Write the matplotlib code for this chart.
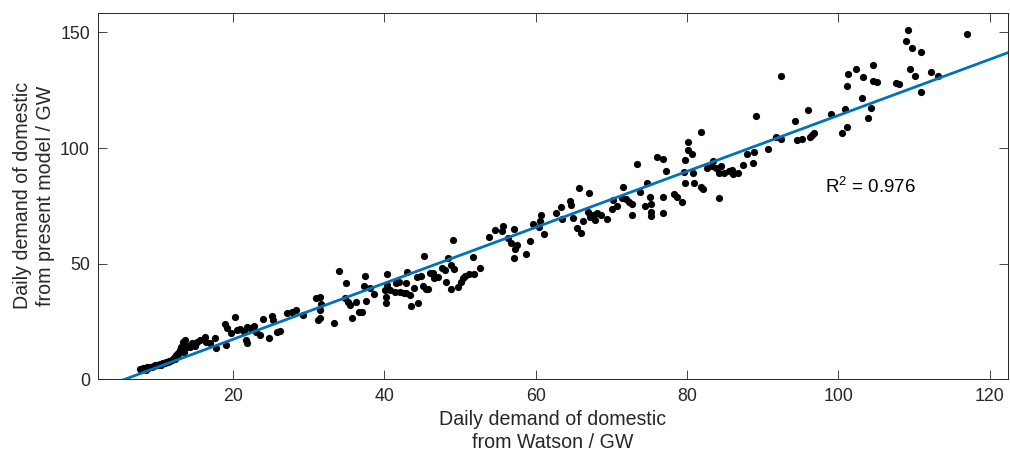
import numpy as np
import matplotlib
matplotlib.use("Agg")
import matplotlib.pyplot as plt

plt.rcParams['font.family'] = ['Liberation Sans', 'DejaVu Sans']
plt.rcParams['mathtext.fontset'] = 'custom'
plt.rcParams['mathtext.rm'] = 'Liberation Sans'
plt.rcParams['mathtext.default'] = 'regular'

# daily domestic demand (GW): Watson (x) vs present model (y)
watson = [
    7.7, 8.1, 8.6, 9.0, 9.5, 9.9, 10.3, 10.8, 11.2, 11.7, 12.1, 12.3, 12.5, 12.8, 13.0, 13.2, 13.4,
    13.7, 13.9, 14.3, 15.0, 15.6, 16.3, 16.5, 17.0, 17.6, 17.8, 18.9, 19.2, 19.1, 19.8, 20.3, 20.5,
    20.9, 21.4, 21.7, 21.8, 21.8, 22.3, 22.8, 23.0, 23.6, 24.0, 24.7, 25.1, 25.3, 25.8, 26.2, 27.1,
    27.8, 28.3,
    7.9, 8.3, 8.8, 9.2, 9.7, 10.1, 10.5, 11.0, 11.4, 11.9, 12.2, 12.6, 12.9, 13.3, 13.6, 14.1, 8.5,
    9.3, 10.7, 11.6, 12.4, 13.5, 14.6, 15.3,
    29.3, 31.0, 31.5, 31.7, 31.5, 31.3, 31.5, 33.3, 34.0, 34.8, 34.9, 35.2, 35.7, 35.5, 36.3, 36.6,
    37.1, 37.3, 37.4, 37.6, 38.1, 38.6, 40.1, 40.2, 40.2, 40.3, 40.4, 40.7, 41.4, 41.6, 41.9, 42.1,
    42.6, 42.9, 43.0, 42.9, 43.4, 43.5, 43.9, 44.3, 44.4, 44.9, 45.1, 45.2, 45.5, 45.8, 46.0, 46.5,
    46.6, 47.1, 47.6, 48.0, 48.2, 48.4, 48.8, 48.8, 49.2, 49.1, 49.7, 50.2, 50.4, 50.7, 51.2, 51.7,
    51.9, 52.6,
    53.9, 54.7, 55.7, 55.6, 56.4, 56.7, 57.2, 57.5, 57.3, 57.1, 58.7, 59.2, 59.6, 60.4, 60.6, 60.7,
    61.1, 62.7, 63.3, 63.5, 64.5, 64.7, 64.9, 65.5, 65.7, 66.0, 66.3, 66.9, 67.0, 67.2, 67.6, 67.9,
    68.1, 68.6, 69.4, 70.1, 70.2, 70.8, 71.4, 71.6, 72.0, 72.3, 72.8, 72.8, 73.4, 73.8, 74.5, 74.7,
    75.1, 75.2, 75.3, 75.2, 76.1, 76.8, 76.8, 76.9, 77.3,
    78.3, 78.7, 79.4, 79.7, 79.6, 79.8, 80.1, 80.1, 80.7, 80.8, 81.0, 81.8, 82.1, 81.9, 82.7, 83.3,
    83.5, 83.8, 84.2, 84.3, 84.5, 84.9, 85.5, 86.0, 86.1, 86.8, 87.4, 88.0, 88.8, 88.9, 89.1, 90.7,
    91.8, 92.4, 92.4, 94.3, 94.6, 95.2, 96.0, 96.3, 96.5, 96.8, 99.1, 100.5, 100.9, 101.2, 101.1,
    101.3,
    102.4, 103.1, 103.3, 104.0, 104.4, 104.6, 104.6, 105.1, 107.7, 108.0, 108.9, 109.2, 109.5,
    109.7, 110.1, 110.9, 110.9, 112.3, 113.2, 117.0,
]
model = [
    4.3, 4.7, 5.2, 5.5, 5.8, 6.2, 6.6, 6.9, 7.3, 7.9, 8.6, 9.8, 10.5, 11.2, 12.7, 14.1, 16.3,
    17.0, 14.1, 13.8, 14.4, 17.0, 18.2, 16.3, 15.6, 17.7, 13.4, 23.9, 22.0, 14.8, 20.2, 27.1, 21.3,
    21.7, 20.6, 17.0, 15.8, 22.8, 22.0, 23.0, 20.6, 19.2, 25.9, 17.7, 27.4, 25.6, 20.6, 21.0, 28.5,
    29.1, 29.9,
    4.0, 4.4, 5.0, 5.2, 6.0, 6.0, 6.3, 7.0, 7.6, 8.2, 9.0, 10.0, 11.5, 13.0, 15.0, 14.5, 4.0,
    5.5, 7.2, 8.0, 8.8, 12.0, 15.5, 16.0,
    27.8, 35.0, 35.7, 32.5, 30.0, 25.6, 26.3, 24.2, 47.0, 35.0, 41.8, 33.6, 26.3, 32.1, 33.6, 29.2,
    29.2, 40.3, 44.6, 34.0, 39.3, 36.7, 38.6, 35.4, 33.1, 40.8, 45.5, 38.6, 37.9, 41.8, 42.2, 37.9,
    37.4, 41.8, 46.5, 37.4, 36.4, 31.7, 39.3, 44.1, 33.1, 44.6, 40.3, 53.3, 38.9, 38.9, 46.1, 46.1,
    43.6, 44.1, 48.0, 47.2, 42.2, 52.6, 49.4, 39.0, 47.5, 60.2, 40.0, 42.2, 43.6, 44.6, 45.5, 52.7,
    45.5, 48.0,
    61.7, 64.5, 66.3, 64.3, 60.9, 59.1, 64.8, 58.1, 56.2, 52.6, 54.2, 59.9, 67.1, 66.0, 68.4, 71.0,
    62.8, 72.0, 74.3, 69.2, 77.2, 75.4, 69.9, 65.3, 82.6, 63.1, 68.6, 72.5, 80.4, 70.0, 71.0, 68.9,
    72.0, 71.0, 69.3, 73.5, 77.5, 74.9, 78.2, 83.3, 77.8, 76.8, 75.8, 71.0, 92.9, 81.1, 74.9, 85.0,
    78.7, 75.6, 72.5, 70.6, 96.0, 95.1, 78.7, 71.8, 90.2,
    80.1, 78.9, 76.5, 85.0, 89.7, 94.8, 102.7, 99.1, 97.4, 89.3, 85.0, 83.2, 82.1, 107.0, 91.2, 92.2,
    94.3, 91.2, 78.5, 89.3, 92.2, 89.3, 90.2, 90.4, 88.7, 89.3, 92.6, 97.4, 93.6, 98.4, 113.8, 99.4,
    104.9, 131.1, 103.9, 111.8, 103.4, 104.1, 116.4, 104.6, 105.6, 106.3, 114.5, 106.6, 116.7, 109.2, 126.8,
    132.2,
    134.1, 121.6, 130.8, 112.8, 117.2, 136.1, 129.1, 128.6, 128.2, 127.5, 146.2, 151.2, 134.1,
    143.3, 131.2, 141.6, 124.3, 132.8, 131.2, 149.1,
]

# linear fit shown on the figure
fit_slope = 1.21
fit_intercept = -6.91
r_squared = 0.976

x_ticks = [20, 40, 60, 80, 100, 120]
y_ticks = [0, 50, 100, 150]

fig = plt.figure(figsize=(10.1, 4.55), dpi=100)
ax = fig.add_axes([0.0973, 0.1664, 0.9004, 0.8061])

ax.scatter(watson, model, s=27, c='k', linewidths=0, zorder=2)

xlim = (2.2, 122.4)
xs = np.array(xlim)
ax.plot(xs, fit_slope * xs + fit_intercept, color='#0072BD', lw=2.0, zorder=3)

ax.text(98.3, 83, f'R$^{{2}}$ = {r_squared}', fontsize=13.5, va='center', ha='left', color='k')

ax.set_xlim(*xlim)
ax.set_ylim(0, 158.6)
ax.set_xticks(x_ticks)
ax.set_yticks(y_ticks)

ax.tick_params(direction='in', length=6.5, width=0.6, colors='#262626',
               labelsize=12.8, top=True, right=True, pad=6)
for s in ax.spines.values():
    s.set_color('#262626')
    s.set_linewidth(0.7)

ax.set_xlabel('Daily demand of domestic\nfrom Watson / GW', fontsize=14.1,
              color='#262626', linespacing=1.25)
ax.set_ylabel('Daily demand of domestic\nfrom present model / GW', fontsize=14.1,
              color='#262626', linespacing=1.25)

fig.savefig('out.png', dpi=100)
